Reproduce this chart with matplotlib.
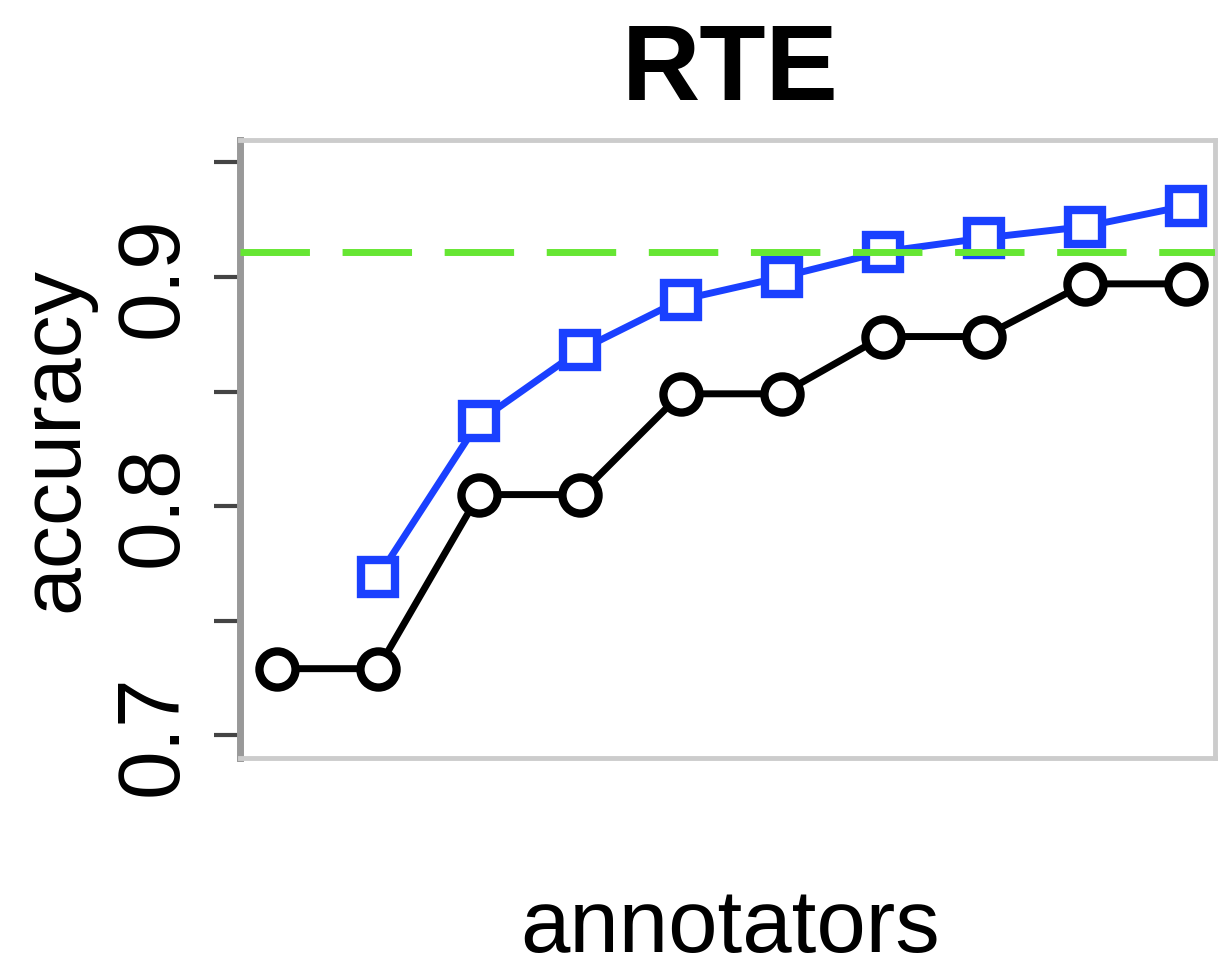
import numpy as np
import matplotlib.pyplot as plt

plt.rcParams['font.family'] = ['Liberation Sans', 'DejaVu Sans']

# accuracy against number of annotators
annotators = np.arange(1, 11)
vote_acc = [0.729, 0.729, 0.805, 0.805, 0.849, 0.849, 0.874, 0.874, 0.897, 0.897]
model_x = np.arange(2, 11)
model_acc = [0.769, 0.837, 0.868, 0.890, 0.900, 0.911, 0.917, 0.922, 0.931]
gold_acc = 0.911

ytick_vals = [0.70, 0.75, 0.80, 0.85, 0.90, 0.95]
ytick_labels = ['0.7', '', '0.8', '', '0.9', '']

fig = plt.figure(figsize=(12.2, 9.6), dpi=100)
ax = fig.add_axes([240 / 1220, 1 - 758 / 960, (1215 - 240) / 1220, (758 - 140) / 960])

ax.plot(annotators, vote_acc, color='black', lw=5, marker='o', ms=26,
        mfc='white', mec='black', mew=6, zorder=3)
ax.plot(model_x, model_acc, color='#1a40ff', lw=5, marker='s', ms=25,
        mfc='white', mec='#1a40ff', mew=6, zorder=4)
ax.axhline(gold_acc, color='#66e633', lw=5, dashes=(10, 4.7), zorder=5)

ax.set_xlim(0.634, 10.29)
ax.set_ylim(0.690, 0.9598)
ax.set_xticks([])
ax.set_yticks(ytick_vals)
ax.set_yticklabels(ytick_labels, rotation=90, va='center', fontsize=63)
ax.tick_params(axis='y', length=19, width=3, color='#444444', pad=14)

for side in ['top', 'bottom', 'right']:
    ax.spines[side].set_color('#cccccc')
    ax.spines[side].set_linewidth(3.5)
ax.spines['left'].set_color('#999999')
ax.spines['left'].set_linewidth(5)

fig.text(730 / 1220, 1 - 100 / 960, 'RTE', ha='center', va='baseline',
         fontsize=78, fontweight='bold')
fig.text(730 / 1220, 1 - 952 / 960, 'annotators', ha='center', va='baseline',
         fontsize=64)
fig.text(55 / 1220, 1 - 440 / 960, 'accuracy', ha='center', va='center',
         rotation=90, fontsize=62)

fig.savefig('out.png', dpi=100)
